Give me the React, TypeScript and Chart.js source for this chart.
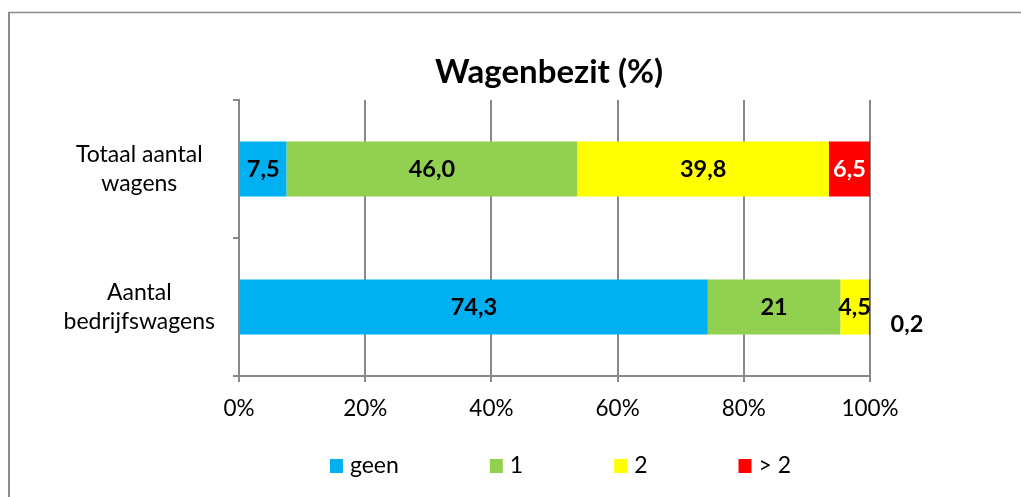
import React, { useEffect, useRef } from 'react';
import { Chart, registerables } from 'chart.js';

Chart.register(...registerables);

const chartTitle = 'Wagenbezit (%)';
const categories: string[][] = [['Totaal aantal', 'wagens'], ['Aantal', 'bedrijfswagens']];
const seriesNames = ['geen', '1', '2', '> 2'];
const geen = [7.5, 74.3];
const een = [46.0, 21];
const twee = [39.8, 4.5];
const meerDanTwee = [6.5, 0.2];
const labelDecimals = [1, -1]; // -1: show value as written
const seriesColors = ['#00B0F0', '#92D050', '#FFFF00', '#FF0000'];
const labelColors = ['#000000', '#000000', '#000000', '#FFFFFF'];
const xTickStep = 20;

const FONT = 'Lato, "Open Sans", sans-serif';
const GRID = '#888888';
const CANVAS_W = 1043;
const CANVAS_H = 497;

const allSeries = [geen, een, twee, meerDanTwee];
const rowTotals = categories.map((_, i) => allSeries.reduce((s, arr) => s + arr[i], 0));

function fmt(v: number, cat: number): string {
  const d = labelDecimals[cat];
  const s = d >= 0 ? v.toFixed(d) : String(v);
  return s.replace('.', ',');
}

const framePlugin = {
  id: 'frame',
  beforeDraw(chart: any) {
    const ctx = chart.ctx;
    ctx.save();
    ctx.strokeStyle = '#8c8c8c';
    ctx.lineWidth = 2;
    ctx.beginPath();
    ctx.moveTo(9, chart.height);
    ctx.lineTo(9, 12.5);
    ctx.stroke();
    ctx.lineWidth = 1.5;
    ctx.beginPath();
    ctx.moveTo(8, 12.5);
    ctx.lineTo(chart.width, 12.5);
    ctx.stroke();
    ctx.restore();
  },
};

const dataLabelPlugin = {
  id: 'dataLabels',
  afterDatasetsDraw(chart: any) {
    const ctx = chart.ctx;
    ctx.save();
    ctx.font = `bold 23.5px ${FONT}`;
    ctx.textAlign = 'center';
    ctx.textBaseline = 'middle';
    chart.data.datasets.forEach((ds: any, di: number) => {
      const meta = chart.getDatasetMeta(di);
      meta.data.forEach((el: any, ci: number) => {
        const { x, base, y } = el.getProps(['x', 'base', 'y'], true);
        const raw = ds.rawValues[ci];
        const text = fmt(raw, ci);
        const w = Math.abs(x - base);
        if (w < 8) {
          ctx.fillStyle = '#000000';
          ctx.fillText(text, Math.max(x, base) + 37, y + 17);
        } else {
          ctx.fillStyle = labelColors[di];
          ctx.fillText(text, (x + base) / 2, y);
        }
      });
    });
    ctx.restore();
  },
};

const legendPlugin = {
  id: 'customLegend',
  afterDraw(chart: any) {
    const ctx = chart.ctx;
    ctx.save();
    ctx.font = `23px ${FONT}`;
    ctx.textBaseline = 'middle';
    ctx.textAlign = 'left';
    const boxW = 13;
    const boxH = 14;
    const textGap = 20;
    const itemGap = 91;
    const items = chart.data.datasets.map((ds: any) => ({
      label: ds.label,
      color: ds.backgroundColor,
      w: ctx.measureText(ds.label).width,
    }));
    const total = items.reduce((s: number, it: any) => s + textGap + it.w, 0) + itemGap * (items.length - 1);
    let x = 560.5 - total / 2;
    const cy = 466;
    items.forEach((it: any) => {
      ctx.fillStyle = it.color;
      ctx.fillRect(x, cy - boxH / 2, boxW, boxH);
      ctx.fillStyle = '#000000';
      ctx.fillText(it.label, x + textGap, cy);
      x += textGap + it.w + itemGap;
    });
    ctx.restore();
  },
};

export default function App() {
  const ref = useRef<HTMLCanvasElement | null>(null);
  useEffect(() => {
    if (!ref.current) return;
    const chart = new Chart(ref.current, {
      type: 'bar',
      data: {
        labels: categories,
        datasets: allSeries.map((arr, si) => ({
          label: seriesNames[si],
          data: arr.map((v, i) => (v / rowTotals[i]) * 100),
          rawValues: arr,
          backgroundColor: seriesColors[si],
          borderWidth: 0,
          categoryPercentage: 1,
          barPercentage: 0.4,
          xAxisID: 'x',
          yAxisID: 'y',
        })) as any,
      },
      options: {
        indexAxis: 'y',
        responsive: false,
        animation: false,
        layout: { padding: { left: 55, right: 0, top: 0, bottom: 0 } },
        plugins: {
          legend: { display: false },
          tooltip: { enabled: false },
          title: {
            display: true,
            text: chartTitle,
            color: '#000000',
            font: { family: FONT, size: 33, weight: 'bold', lineHeight: 1.2 },
            padding: { top: 53, bottom: 7.4 },
          },
        },
        scales: {
          x: {
            type: 'linear',
            stacked: true,
            min: 0,
            max: 100,
            afterFit: (scale: any) => {
              scale.height = 121;
            },
            ticks: {
              stepSize: xTickStep,
              callback: (v: any) => `${v}%`,
              color: '#000000',
              font: { family: FONT, size: 22.5 },
              padding: 13,
            },
            grid: {
              color: GRID,
              lineWidth: 2,
              tickLength: 6,
              drawOnChartArea: true,
              drawTicks: true,
            },
            border: { display: true, color: GRID, width: 2 },
          },
          y: {
            type: 'category',
            position: 'left',
            stacked: true,
            afterFit: (scale: any) => {
              scale.width = 239 - 55;
            },
            ticks: {
              color: '#000000',
              font: { family: FONT, size: 23, lineHeight: 1.28 },
              crossAlign: 'center',
              padding: 18,
            },
            grid: {
              color: GRID,
              lineWidth: 2,
              tickLength: 6,
              drawOnChartArea: false,
              drawTicks: true,
            },
            border: { display: true, color: GRID, width: 2 },
          },
          yRight: {
            type: 'category',
            position: 'right',
            display: true,
            afterFit: (scale: any) => {
              scale.width = CANVAS_W - 870;
            },
            ticks: { display: false },
            grid: { display: false },
            border: { display: false },
          },
        },
      } as any,
      plugins: [framePlugin, dataLabelPlugin, legendPlugin],
    });
    return () => chart.destroy();
  }, []);
  return (
    <div style={{ position: 'absolute', left: 0, top: 0, width: 1021, height: CANVAS_H, overflow: 'hidden', background: '#ffffff' }}>
      <canvas ref={ref} width={CANVAS_W} height={CANVAS_H} style={{ display: 'block' }} />
    </div>
  );
}
